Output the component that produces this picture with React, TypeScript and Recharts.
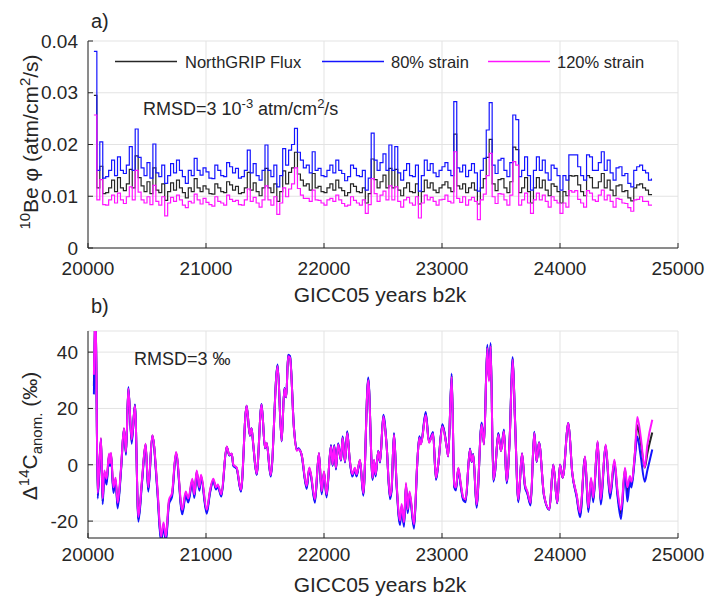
import { LineChart, Line, XAxis, YAxis, CartesianGrid } from 'recharts'

// Colores y fuentes
const FONT = '"Liberation Sans", Arial, Helvetica, sans-serif'
const INK = '#262626'
const GRID = '#e3e3e3'
const COLORS = {
  flux: '#262626',
  s80: '#1414ff',
  s120: '#ff14ff'
}

const xTicks = [20000, 21000, 22000, 23000, 24000, 25000]
const fluxTicks = [0, 0.01, 0.02, 0.03, 0.04]
const c14Ticks = [-20, 0, 20, 40]

// panel a) 10Be flux, step series (25 yr)
const years10Be = [
  20050, 20075, 20100, 20125, 20150, 20175, 20200, 20225, 20250, 20275,
  20300, 20325, 20350, 20375, 20400, 20425, 20450, 20475, 20500, 20525,
  20550, 20575, 20600, 20625, 20650, 20675, 20700, 20725, 20750, 20775,
  20800, 20825, 20850, 20875, 20900, 20925, 20950, 20975, 21000, 21025,
  21050, 21075, 21100, 21125, 21150, 21175, 21200, 21225, 21250, 21275,
  21300, 21325, 21350, 21375, 21400, 21425, 21450, 21475, 21500, 21525,
  21550, 21575, 21600, 21625, 21650, 21675, 21700, 21725, 21750, 21775,
  21800, 21825, 21850, 21875, 21900, 21925, 21950, 21975, 22000, 22025,
  22050, 22075, 22100, 22125, 22150, 22175, 22200, 22225, 22250, 22275,
  22300, 22325, 22350, 22375, 22400, 22425, 22450, 22475, 22500, 22525,
  22550, 22575, 22600, 22625, 22650, 22675, 22700, 22725, 22750, 22775,
  22800, 22825, 22850, 22875, 22900, 22925, 22950, 22975, 23000, 23025,
  23050, 23075, 23100, 23125, 23150, 23175, 23200, 23225, 23250, 23275,
  23300, 23325, 23350, 23375, 23400, 23425, 23450, 23475, 23500, 23525,
  23550, 23575, 23600, 23625, 23650, 23675, 23700, 23725, 23750, 23775,
  23800, 23825, 23850, 23875, 23900, 23925, 23950, 23975, 24000, 24025,
  24050, 24075, 24100, 24125, 24150, 24175, 24200, 24225, 24250, 24275,
  24300, 24325, 24350, 24375, 24400, 24425, 24450, 24475, 24500, 24525,
  24550, 24575, 24600, 24625, 24650, 24675, 24700, 24725, 24750, 24775,
  24780
]
const fluxNorthGRIP = [
  0.0295, 0.0116, 0.0158, 0.0105, 0.0107, 0.0116, 0.0131, 0.0109, 0.0136, 0.0116,
  0.0111, 0.0124, 0.0152, 0.0116, 0.0178, 0.0136, 0.0120, 0.0109, 0.0128, 0.0105,
  0.0155, 0.0112, 0.0107, 0.0124, 0.0092, 0.0109, 0.0126, 0.0112, 0.0131, 0.0116,
  0.0107, 0.0097, 0.0116, 0.0109, 0.0134, 0.0116, 0.0109, 0.0120, 0.0114, 0.0105,
  0.0104, 0.0124, 0.0116, 0.0109, 0.0107, 0.0128, 0.0122, 0.0112, 0.0119, 0.0105,
  0.0107, 0.0116, 0.0146, 0.0112, 0.0126, 0.0109, 0.0101, 0.0116, 0.0154, 0.0116,
  0.0107, 0.0124, 0.0090, 0.0109, 0.0149, 0.0124, 0.0146, 0.0155, 0.0185, 0.0143,
  0.0131, 0.0120, 0.0124, 0.0112, 0.0144, 0.0116, 0.0119, 0.0109, 0.0107, 0.0116,
  0.0124, 0.0112, 0.0131, 0.0116, 0.0111, 0.0101, 0.0107, 0.0124, 0.0119, 0.0109,
  0.0107, 0.0116, 0.0087, 0.0105, 0.0172, 0.0132, 0.0116, 0.0128, 0.0141, 0.0116,
  0.0154, 0.0116, 0.0152, 0.0112, 0.0101, 0.0116, 0.0126, 0.0109, 0.0107, 0.0124,
  0.0085, 0.0109, 0.0131, 0.0116, 0.0126, 0.0112, 0.0107, 0.0116, 0.0122, 0.0128,
  0.0116, 0.0109, 0.0220, 0.0120, 0.0114, 0.0124, 0.0107, 0.0116, 0.0126, 0.0112,
  0.0085, 0.0116, 0.0134, 0.0175, 0.0210, 0.0124, 0.0111, 0.0132, 0.0134, 0.0116,
  0.0107, 0.0128, 0.0195, 0.0190, 0.0107, 0.0116, 0.0136, 0.0109, 0.0087, 0.0116,
  0.0136, 0.0116, 0.0131, 0.0112, 0.0101, 0.0124, 0.0119, 0.0109, 0.0087, 0.0109,
  0.0101, 0.0140, 0.0139, 0.0140, 0.0122, 0.0109, 0.0101, 0.0140, 0.0136, 0.0116,
  0.0116, 0.0128, 0.0144, 0.0116, 0.0131, 0.0112, 0.0101, 0.0120, 0.0122, 0.0109,
  0.0111, 0.0097, 0.0091, 0.0116, 0.0122, 0.0124, 0.0116, 0.0112, 0.0103, 0.0103,
  0.0103
]
const flux80 = [
  0.0380, 0.0150, 0.0205, 0.0135, 0.0138, 0.0150, 0.0170, 0.0140, 0.0176, 0.0150,
  0.0144, 0.0160, 0.0196, 0.0150, 0.0230, 0.0175, 0.0155, 0.0140, 0.0165, 0.0135,
  0.0201, 0.0145, 0.0138, 0.0160, 0.0125, 0.0140, 0.0163, 0.0145, 0.0170, 0.0150,
  0.0138, 0.0125, 0.0150, 0.0140, 0.0173, 0.0150, 0.0141, 0.0155, 0.0147, 0.0135,
  0.0134, 0.0160, 0.0150, 0.0140, 0.0138, 0.0165, 0.0157, 0.0145, 0.0154, 0.0135,
  0.0138, 0.0150, 0.0189, 0.0145, 0.0163, 0.0140, 0.0131, 0.0150, 0.0199, 0.0150,
  0.0138, 0.0160, 0.0118, 0.0140, 0.0192, 0.0160, 0.0189, 0.0200, 0.0231, 0.0185,
  0.0170, 0.0155, 0.0160, 0.0145, 0.0186, 0.0150, 0.0154, 0.0140, 0.0138, 0.0150,
  0.0160, 0.0145, 0.0170, 0.0150, 0.0144, 0.0130, 0.0138, 0.0160, 0.0154, 0.0140,
  0.0138, 0.0150, 0.0112, 0.0135, 0.0222, 0.0170, 0.0150, 0.0165, 0.0182, 0.0150,
  0.0199, 0.0150, 0.0196, 0.0145, 0.0131, 0.0150, 0.0163, 0.0140, 0.0138, 0.0160,
  0.0110, 0.0140, 0.0170, 0.0150, 0.0163, 0.0145, 0.0138, 0.0150, 0.0157, 0.0165,
  0.0150, 0.0140, 0.0283, 0.0155, 0.0147, 0.0160, 0.0138, 0.0150, 0.0163, 0.0145,
  0.0110, 0.0150, 0.0173, 0.0228, 0.0281, 0.0160, 0.0144, 0.0170, 0.0173, 0.0150,
  0.0138, 0.0165, 0.0257, 0.0248, 0.0138, 0.0150, 0.0176, 0.0140, 0.0112, 0.0150,
  0.0176, 0.0150, 0.0170, 0.0145, 0.0131, 0.0160, 0.0154, 0.0140, 0.0112, 0.0140,
  0.0131, 0.0180, 0.0180, 0.0180, 0.0157, 0.0140, 0.0131, 0.0180, 0.0176, 0.0150,
  0.0150, 0.0165, 0.0186, 0.0150, 0.0170, 0.0145, 0.0131, 0.0155, 0.0157, 0.0140,
  0.0144, 0.0125, 0.0118, 0.0150, 0.0157, 0.0160, 0.0150, 0.0145, 0.0131, 0.0133,
  0.0133
]
const flux120 = [
  0.0257, 0.0093, 0.0132, 0.0084, 0.0083, 0.0093, 0.0102, 0.0087, 0.0106, 0.0093,
  0.0086, 0.0099, 0.0118, 0.0093, 0.0150, 0.0108, 0.0093, 0.0087, 0.0099, 0.0084,
  0.0121, 0.0090, 0.0083, 0.0099, 0.0062, 0.0087, 0.0098, 0.0090, 0.0102, 0.0093,
  0.0083, 0.0078, 0.0090, 0.0087, 0.0104, 0.0093, 0.0085, 0.0096, 0.0088, 0.0084,
  0.0081, 0.0099, 0.0090, 0.0087, 0.0083, 0.0102, 0.0094, 0.0090, 0.0092, 0.0084,
  0.0083, 0.0093, 0.0114, 0.0090, 0.0098, 0.0087, 0.0079, 0.0093, 0.0120, 0.0093,
  0.0083, 0.0099, 0.0065, 0.0087, 0.0116, 0.0099, 0.0114, 0.0124, 0.0155, 0.0115,
  0.0102, 0.0096, 0.0096, 0.0090, 0.0112, 0.0093, 0.0092, 0.0087, 0.0083, 0.0093,
  0.0096, 0.0090, 0.0102, 0.0093, 0.0086, 0.0081, 0.0083, 0.0099, 0.0092, 0.0087,
  0.0083, 0.0093, 0.0067, 0.0084, 0.0134, 0.0105, 0.0090, 0.0102, 0.0110, 0.0093,
  0.0120, 0.0093, 0.0118, 0.0090, 0.0079, 0.0093, 0.0098, 0.0087, 0.0083, 0.0099,
  0.0058, 0.0087, 0.0102, 0.0093, 0.0098, 0.0090, 0.0083, 0.0093, 0.0094, 0.0102,
  0.0090, 0.0087, 0.0186, 0.0096, 0.0088, 0.0099, 0.0083, 0.0093, 0.0098, 0.0090,
  0.0055, 0.0093, 0.0104, 0.0140, 0.0183, 0.0099, 0.0086, 0.0105, 0.0104, 0.0093,
  0.0083, 0.0102, 0.0167, 0.0160, 0.0083, 0.0093, 0.0106, 0.0087, 0.0067, 0.0093,
  0.0106, 0.0093, 0.0102, 0.0090, 0.0079, 0.0099, 0.0092, 0.0087, 0.0067, 0.0087,
  0.0079, 0.0111, 0.0108, 0.0111, 0.0094, 0.0087, 0.0079, 0.0111, 0.0106, 0.0093,
  0.0090, 0.0102, 0.0112, 0.0093, 0.0102, 0.0090, 0.0079, 0.0096, 0.0094, 0.0087,
  0.0086, 0.0078, 0.0071, 0.0093, 0.0094, 0.0099, 0.0090, 0.0090, 0.0083, 0.0083,
  0.0083
]

// panel b) Δ14C anomaly, turning points of the curves
const years14C = [
  20050, 20065, 20082, 20110, 20124, 20138, 20158, 20178, 20186, 20195,
  20215, 20234, 20251, 20280, 20305, 20322, 20342, 20370, 20398, 20427,
  20458, 20488, 20511, 20545, 20588, 20619, 20640, 20660, 20686, 20712,
  20746, 20799, 20828, 20850, 20884, 20901, 20921, 20944, 20958, 21006,
  21034, 21062, 21085, 21100, 21130, 21175, 21198, 21218, 21232, 21260,
  21296, 21344, 21372, 21386, 21401, 21429, 21471, 21500, 21514, 21548,
  21607, 21641, 21664, 21680, 21696, 21712, 21745, 21768, 21785, 21810,
  21853, 21875, 21890, 21923, 21957, 21980, 22000, 22022, 22059, 22073,
  22087, 22101, 22120, 22144, 22158, 22178, 22197, 22217, 22240, 22262,
  22276, 22305, 22333, 22375, 22412, 22424, 22437, 22460, 22475, 22503,
  22531, 22559, 22573, 22593, 22616, 22644, 22658, 22678, 22695, 22709,
  22725, 22763, 22791, 22808, 22822, 22862, 22890, 22924, 22949, 22969,
  23003, 23045, 23053, 23082, 23104, 23118, 23138, 23158, 23181, 23200,
  23237, 23251, 23265, 23293, 23336, 23356, 23384, 23398, 23412, 23435,
  23449, 23477, 23500, 23525, 23548, 23573, 23599, 23618, 23647, 23678,
  23703, 23723, 23751, 23782, 23802, 23822, 23864, 23910, 23943, 23977,
  24000, 24023, 24071, 24104, 24141, 24170, 24212, 24240, 24263, 24282,
  24319, 24345, 24387, 24424, 24461, 24486, 24517, 24551, 24571, 24593,
  24605, 24636, 24655, 24684, 24718, 24740, 24782
]
const c14NorthGRIP = [
  28, 55, -11, 9.3, -13, -3, -6, 3.6, 0, 4,
  -9, -5.2, -14.5, -1.5, 12.9, 4, 27.2, 8.3, 21.2, -19.3,
  -5.6, 7.3, -8.8, 10.4, -8.8, -26.5, -21.3, -26.5, -13.3, -10.7,
  4.2, -16.8, -10.2, -12.7, -5.5, -11.1, -2.5, -8.6, -4, -16.7,
  -9.5, -5.4, -8.4, -7.4, -10.9, 6.4, 3.4, 3.9, -0.2, -1.2,
  -9.3, 21, 10.4, 13, 6.9, -3.4, 21.4, 5.9, 7.7, -3.9,
  35.3, 8.4, 27.1, 24, 38.8, 38.3, 13.2, 5.2, 5.7, 3.6,
  -8, -1.3, -3.8, -12.9, 4.1, -9.9, -2.6, -11, 6.8, -0.2,
  6.8, -1.4, 7.4, 1.6, 9.8, 1, 11.6, 2.2, -3.8, -1.4,
  -3.8, 1.6, -10.5, 30.5, -5, 1.6, -3.8, 4.9, 1, 17.4,
  6.7, -11.6, -8.6, 11, -7.5, -20.6, -14.6, -21.2, -6.9, -16.5,
  -10, -21.9, 1.1, 9.8, 7.4, 18.2, 8, 11.3, -5, 0.5,
  14, 4.9, 3, 31.8, -7.5, -8.6, -1.3, -6.9, -12.2, -12.8,
  5.6, 1.1, 3.7, -14.7, 14.6, 7.3, 42, 30.2, 42.6, -5.6,
  -2.6, 11, 4.9, 12.2, -6.2, 8.6, 37.8, 16.8, -12.8, 4,
  -7.4, -9.8, -14, 11.5, 1.1, 7.9, -10.7, -15.9, 0, -13.6,
  0, -4.6, 14.8, -3, -11, -17.8, 2.8, -16, -5.1, -12.5,
  8.2, -13.2, 6.9, -11, 1.2, -9.5, -17.5, -1.5, -10, -5,
  -7, 4.5, 14, 8, -1, 4, 11.5
]
const c14Strain80 = [
  25, 55, -12, 9.1, -14, -4, -7, 3.2, -0.5, 3.6,
  -10, -5.8, -15.5, -2, 12.7, 3.5, 27.6, 7.5, 21.4, -20.2,
  -6.3, 7.1, -9.6, 10.3, -9.6, -27.5, -22, -27.5, -14, -11.4,
  3.9, -17.6, -10.9, -13.4, -6.1, -11.8, -3, -9.2, -4.5, -17.4,
  -10, -5.8, -8.8, -7.8, -11.3, 6.3, 3.3, 3.8, -0.4, -1.4,
  -9.6, 21, 10.3, 13, 6.8, -3.6, 21.6, 5.8, 7.6, -4.2,
  35.6, 8.3, 27.3, 24, 39.1, 38.6, 13.4, 5.4, 5.9, 3.5,
  -8.6, -1.6, -4.2, -13.5, 4, -10.5, -2.9, -11.6, 7, -0.4,
  7, -1.7, 7.6, 1.4, 10.1, 0.8, 11.9, 2, -4.2, -1.7,
  -4.2, 1.4, -11, 31, -5.4, 1.4, -4.2, 5, 0.8, 17.8,
  6.8, -12.2, -9.1, 11.3, -8, -21.4, -15.3, -22, -7.4, -17.2,
  -10.6, -22.7, 1, 10.1, 7.6, 18.7, 8.2, 11.6, -5.4, 0.4,
  14.4, 5, 3, 32.4, -8, -9.1, -1.5, -7.4, -12.7, -13.3,
  5.8, 1, 3.8, -15.3, 15, 7.4, 42.6, 30.8, 43.2, -6,
  -2.9, 11.3, 5, 12.5, -6.6, 8.8, 38.3, 17.1, -13.3, 4,
  -7.8, -10.2, -14.5, 11.7, 1, 8, -10.9, -16, 0, -13.7,
  0, -4.6, 14.8, -3.1, -11.5, -18.6, 2.6, -16.8, -5.6, -13.3,
  8, -14.1, 6.6, -12, 0.6, -10.5, -19.3, -2.5, -13, -6,
  -8.1, 3, 10, 3, -6, -2, 5.4
]
const c14Strain120 = [
  32, 55, -10, 9.5, -12, -2, -5, 4, 0.5, 4.3,
  -8, -4.6, -13.5, -1, 13, 4.5, 27, 9, 21, -18.5,
  -5, 7.5, -8, 10.5, -8, -25.5, -20.5, -25.5, -12.5, -10,
  4.5, -16, -9.5, -12, -5, -10.5, -2, -8, -3.5, -16,
  -9, -5, -8, -7, -10.5, 6.5, 3.5, 4, 0, -1,
  -9, 21, 10.5, 13, 7, -3.2, 21.3, 6, 7.8, -3.6,
  35, 8.5, 27, 24, 38.5, 38, 13, 5, 5.5, 3.7,
  -7.5, -1, -3.4, -12.3, 4.2, -9.4, -2.3, -10.5, 6.6, 0,
  6.6, -1.1, 7.2, 1.8, 9.5, 1.2, 11.3, 2.4, -3.4, -1.1,
  -3.4, 1.8, -10, 30, -4.6, 1.8, -3.4, 4.8, 1.2, 17.1,
  6.6, -11, -8.1, 10.7, -7, -19.8, -13.9, -20.4, -6.4, -15.8,
  -9.5, -21.1, 1.2, 9.5, 7.2, 17.7, 7.8, 11, -4.6, 0.6,
  13.6, 4.8, 3, 31.2, -7, -8.1, -1.1, -6.4, -11.7, -12.3,
  5.4, 1.2, 3.6, -14.1, 14.2, 7.2, 41.4, 29.6, 42, -5.2,
  -2.3, 10.7, 4.8, 11.9, -5.8, 8.4, 37.3, 16.5, -12.3, 4,
  -7, -9.4, -13.5, 11.3, 1.2, 7.8, -10.5, -15.8, 0, -13.5,
  0, -4.6, 14.8, -2.9, -10.5, -17, 3, -15.2, -4.6, -11.7,
  8.4, -12.3, 7.2, -10, 1.8, -8.5, -16, -1.1, -8, -4,
  -6, 5, 17, 10, -1, 7, 16
]

const fluxData = years10Be.map((year, i) => ({
  year,
  flux: fluxNorthGRIP[i],
  s80: flux80[i],
  s120: flux120[i]
}))
const c14Data = years14C.map((year, i) => ({
  year,
  flux: c14NorthGRIP[i],
  s80: c14Strain80[i],
  s120: c14Strain120[i]
}))

const tickStyle = { fontSize: 19, fill: INK, fontFamily: FONT }

const abs = (left: number, top: number, fontSize: number) => ({
  position: 'absolute' as const,
  left,
  top,
  fontSize,
  lineHeight: 1,
  whiteSpace: 'nowrap' as const,
  color: INK
})

const rotated = (cx: number, cy: number, fontSize: number) => ({
  position: 'absolute' as const,
  left: cx,
  top: cy,
  fontSize,
  lineHeight: 1,
  whiteSpace: 'nowrap' as const,
  color: INK,
  transform: 'translate(-50%, -50%) rotate(-90deg)'
})

const legendItems = [
  { label: 'NorthGRIP Flux', color: COLORS.flux, lineX: 115, textX: 185 },
  { label: '80% strain', color: COLORS.s80, lineX: 322, textX: 391 },
  { label: '120% strain', color: COLORS.s120, lineX: 488, textX: 557 }
]

function FluxPanel() {
  return (
    <LineChart width={707} height={300} data={fluxData}
      margin={{ top: 41, right: 29, bottom: 22, left: 28 }}>
      <CartesianGrid stroke={GRID} strokeWidth={1} />
      <XAxis dataKey="year" type="number" domain={[20000, 25000]} ticks={xTicks}
        height={30} tickSize={-5} tickMargin={19} stroke={INK} tick={tickStyle} />
      <XAxis xAxisId="top" orientation="top" type="number" domain={[20000, 25000]}
        ticks={xTicks} height={0} tickSize={-5} tick={false} stroke={INK} />
      <YAxis type="number" domain={[0, 0.04]} ticks={fluxTicks} width={60}
        tickSize={-5} tickMargin={15} stroke={INK} tick={tickStyle}
        tickFormatter={(v: number) => (v === 0 ? '0' : v.toFixed(2))} />
      <YAxis yAxisId="right" orientation="right" type="number" domain={[0, 0.04]}
        ticks={fluxTicks} width={0} tickSize={-5} tick={false} stroke={INK} />
      <Line type="stepAfter" dataKey="flux" stroke={COLORS.flux} strokeWidth={1.2}
        dot={false} isAnimationActive={false} />
      <Line type="stepAfter" dataKey="s80" stroke={COLORS.s80} strokeWidth={1.2}
        dot={false} isAnimationActive={false} />
      <Line type="stepAfter" dataKey="s120" stroke={COLORS.s120} strokeWidth={1.2}
        dot={false} isAnimationActive={false} />
    </LineChart>
  )
}

function C14Panel() {
  return (
    <LineChart width={707} height={296} data={c14Data}
      margin={{ top: 31, right: 29, bottom: 28, left: 28 }}>
      <CartesianGrid stroke={GRID} strokeWidth={1} />
      <XAxis dataKey="year" type="number" domain={[20000, 25000]} ticks={xTicks}
        height={30} tickSize={-5} tickMargin={15} stroke={INK} tick={tickStyle} />
      <XAxis xAxisId="top" orientation="top" type="number" domain={[20000, 25000]}
        ticks={xTicks} height={0} tickSize={-5} tick={false} stroke={INK} />
      <YAxis type="number" domain={[-26, 47.5]} ticks={c14Ticks} width={60}
        allowDataOverflow tickSize={-5} tickMargin={15} stroke={INK} tick={tickStyle} />
      <YAxis yAxisId="right" orientation="right" type="number" domain={[-26, 47.5]}
        ticks={c14Ticks} width={0} tickSize={-5} tick={false} stroke={INK} />
      <Line type="monotone" dataKey="flux" stroke={COLORS.flux} strokeWidth={2}
        dot={false} isAnimationActive={false} />
      <Line type="monotone" dataKey="s80" stroke={COLORS.s80} strokeWidth={2}
        dot={false} isAnimationActive={false} />
      <Line type="monotone" dataKey="s120" stroke={COLORS.s120} strokeWidth={2}
        dot={false} isAnimationActive={false} />
    </LineChart>
  )
}

export default function App() {
  return (
    <div style={{
      position: 'absolute', left: 0, top: 0, width: 707, height: 596,
      background: '#fff', fontFamily: FONT, overflow: 'hidden'
    }}>
      <div style={{ position: 'absolute', left: 0, top: 0 }}>
        <FluxPanel />
      </div>
      <div style={{ position: 'absolute', left: 0, top: 300 }}>
        <C14Panel />
      </div>

      <div style={abs(91, 11, 20)}>a)</div>
      <div style={abs(91, 296, 20)}>b)</div>

      {/* leyenda */}
      <svg width={707} height={80} style={{ position: 'absolute', left: 0, top: 0 }}>
        {legendItems.map((item) => (
          <line key={item.label} x1={item.lineX} x2={item.lineX + 62} y1={61.5} y2={61.5}
            stroke={item.color} strokeWidth={1.3} />
        ))}
      </svg>
      {legendItems.map((item) => (
        <div key={item.label} style={abs(item.textX, 54, 16.5)}>{item.label}</div>
      ))}

      <div style={abs(143, 97, 18)}>
        RMSD=3 10<sup style={{ fontSize: 13 }}>-3</sup> atm/cm<sup style={{ fontSize: 13 }}>2</sup>/s
      </div>
      <div style={abs(134, 350, 18)}>RMSD=3 ‰</div>

      <div style={{ ...abs(280, 284, 21), width: 200, textAlign: 'center' }}>GICC05 years b2k</div>
      <div style={{ ...abs(280, 574, 21), width: 200, textAlign: 'center' }}>GICC05 years b2k</div>

      <div style={rotated(29, 142, 21)}>
        <sup style={{ fontSize: 15 }}>10</sup>Be φ (atm/cm<sup style={{ fontSize: 15 }}>2</sup>/s)
      </div>
      <div style={rotated(30, 436, 21)}>
        Δ<sup style={{ fontSize: 15 }}>14</sup>C<sub style={{ fontSize: 15 }}>anom.</sub> (‰)
      </div>
    </div>
  )
}
